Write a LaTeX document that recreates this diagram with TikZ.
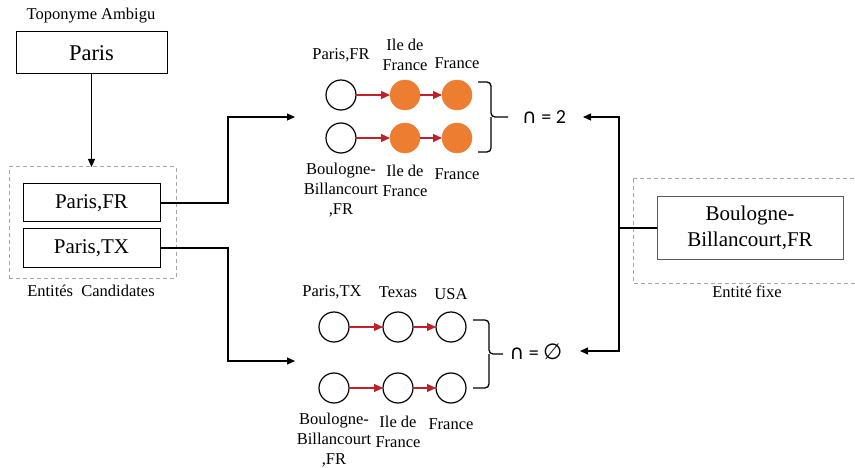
\documentclass[tikz,border=0pt]{standalone}
\usepackage{fontspec}
\setmainfont{Liberation Serif}
\newfontfamily\symfont{DejaVu Sans}
\newfontfamily\calfont{Carlito}
\usetikzlibrary{arrows.meta}
\definecolor{orng}{HTML}{ED7D31}
\definecolor{redarr}{HTML}{C0202A}
\definecolor{dashgray}{HTML}{A6A6A6}
\definecolor{boxgray}{HTML}{595959}
\begin{document}
\begin{tikzpicture}[x=1pt,y=-1pt,
  every node/.style={inner sep=0pt, outer sep=0pt},
  entbox/.style={draw, line width=1pt, align=center, font=\fontsize{21}{26}\selectfont},
  dashbox/.style={draw=dashgray, line width=1pt, dash pattern=on 4pt off 3pt},
  lbl/.style={align=center, font=\fontsize{16.5}{20}\selectfont},
  wcirc/.style={circle, draw, line width=1.2pt, minimum size=30pt},
  ocirc/.style={circle, fill=orng, draw=orng, minimum size=30pt},
  redconn/.style={draw=redarr, line width=1.1pt, -{Triangle[length=9pt,width=8pt]}, fill=redarr},
  conn/.style={draw, line width=1.2pt, -{Triangle[length=8pt,width=7pt]}},
  brace/.style={draw, line width=1.3pt, rounded corners=4pt},
  setlbl/.style={font=\calfont\fontsize{20}{22}\selectfont},
  symb/.style={font=\symfont\fontsize{20}{22}\selectfont}
]
\useasboundingbox (0,0) rectangle (855,468);

% left side
\node[lbl] (topo) at (91,16) {Toponyme Ambigu};
\node[entbox, minimum width=151pt, minimum height=42pt, font=\fontsize{22.5}{26}\selectfont] (paris) at (91.5,53) {Paris};
\node[dashbox, minimum width=167pt, minimum height=111pt] (cand) at (92.5,222.5) {};
\node[entbox, minimum width=137pt, minimum height=38pt] (pfr) at (91.5,203) {Paris,FR};
\node[entbox, minimum width=137pt, minimum height=38pt] (ptx) at (91.5,248) {Paris,TX};
\node[lbl] (candl) at (91,291) {Entités\enspace Candidates};

% right side
\draw[dashbox] (633,179) rectangle (860,283);
\node[entbox, draw=boxgray, minimum width=186pt, minimum height=62pt] (boul) at (750,228) {Boulogne-\\Billancourt,FR};
\node[lbl] (fixl) at (747,292) {Entité fixe};

% top group
\node[wcirc] (a1) at (341,95) {};
\node[ocirc] (a2) at (405,95) {};
\node[ocirc] (a3) at (457,95) {};
\node[wcirc] (b1) at (341,138) {};
\node[ocirc] (b2) at (405,138) {};
\node[ocirc] (b3) at (457,138) {};
\draw[redconn] (a1) -- (a2);
\draw[redconn] (a2) -- (a3);
\draw[redconn] (b1) -- (b2);
\draw[redconn] (b2) -- (b3);
\node[lbl] (la1) at (341,55) {Paris,FR};
\node[lbl] (la2) at (405,55) {Ile de\\France};
\node[lbl] (la3) at (457,63) {France};
\node[lbl] (lb1) at (341,190) {Boulogne-\\Billancourt\\,FR};
\node[lbl] (lb2) at (405,181) {Ile de\\France};
\node[lbl] (lb3) at (457,174) {France};
\draw[brace] (478,82) -| (491,117) -- (508,117);
\draw[brace] (478,152) -| (491,117);
\node[setlbl] (inter1) at (544,117) {{\symfont\fontsize{20}{22}\selectfont ∩} = 2};

% bottom group
\node[wcirc] (c1) at (334,327) {};
\node[wcirc] (c2) at (398,327) {};
\node[wcirc] (c3) at (451,327) {};
\node[wcirc] (d1) at (334,388) {};
\node[wcirc] (d2) at (398,388) {};
\node[wcirc] (d3) at (451,388) {};
\draw[redconn] (c1) -- (c2);
\draw[redconn] (c2) -- (c3);
\draw[redconn] (d1) -- (d2);
\draw[redconn] (d2) -- (d3);
\node[lbl] (lc1) at (332,292) {Paris,TX};
\node[lbl] (lc2) at (398,292) {Texas};
\node[lbl] (lc3) at (451,294) {USA};
\node[lbl] (ld1) at (334,440) {Boulogne-\\Billancourt\\,FR};
\node[lbl] (ld2) at (398,432) {Ile de\\France};
\node[lbl] (ld3) at (451,424) {France};
\draw[brace] (473,320) -| (489,354) -- (503,354);
\draw[brace] (473,388) -| (489,354);
\node[setlbl] (inter2) at (536,352) {{\symfont\fontsize{20}{22}\selectfont ∩} = {\symfont\fontsize{22}{22}\selectfont ∅}};

% connectors
\coordinate (e1) at (295,117);
\coordinate (e2) at (295,361);
\coordinate (f1) at (583,117);
\coordinate (f2) at (580,351);
\draw[conn] (paris.south) -- (paris.south |- cand.north);
\draw[conn] (pfr.east) -- ++(68,0) |- (e1);
\draw[conn] (ptx.east) -- ++(68,0) |- (e2);
\draw[conn] (boul.west) -- ++(-38,0) |- (f1);
\draw[conn] (boul.west) -- ++(-38,0) |- (f2);
\end{tikzpicture}
\end{document}
